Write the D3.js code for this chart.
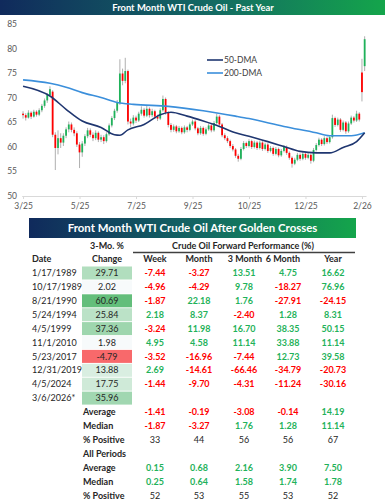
<!DOCTYPE html>
<html>
<head>
<meta charset="utf-8">
<script src="https://cdn.jsdelivr.net/npm/d3@7"></script>
<style>
body { margin: 0; background: #fff; }
text { font-family: Lato, "Open Sans", sans-serif; }
</style>
</head>
<body>
<div id="canvas-div"></div>
<script>
// price candles (two trading days per candle)
const opens = [66.8,66.5,66.0,67.0,66.2,67.2,66.6,67.5,68.4,69.5,70.6,71.3,62.5,59.8,61.8,60.9,62.3,63.6,64.6,63.5,
    62.8,60.5,58.9,60.7,62.2,63.4,62.5,61.8,62.9,61.5,62.0,61.2,62.6,64.4,65.9,67.4,69.0,75.0,73.5,75.5,
    65.2,64.8,66.0,65.4,66.8,67.6,66.4,67.8,66.5,67.3,66.2,65.8,67.5,69.8,67.0,64.5,63.5,64.2,63.2,63.9,
    63.0,64.0,63.5,64.6,65.2,63.8,62.8,63.9,62.7,63.6,64.4,63.4,64.9,66.2,64.6,62.4,61.8,61.2,60.2,59.5,
    58.2,57.6,59.6,60.8,60.2,61.2,60.0,60.9,59.8,60.9,59.6,60.5,59.2,59.8,58.6,59.6,58.3,59.2,60.0,58.8,
    57.8,56.6,57.4,58.4,57.6,58.6,57.8,58.4,57.2,59.4,60.4,61.5,60.6,61.8,61.0,62.0,65.9,64.5,65.6,63.5,
    65.0,63.2,64.8,66.0,65.4,66.8,75.2,76.5];
const highs = [67.3,66.9,67.5,67.3,67.6,67.5,67.9,68.8,69.9,71.0,72.4,71.6,63.0,63.4,62.8,62.8,64.0,65.2,65.0,64.0,
    63.2,61.0,61.2,62.6,63.9,63.8,63.0,63.4,63.2,62.5,62.4,63.0,64.8,66.3,67.8,69.6,77.9,76.0,78.2,75.8,
    65.8,66.5,66.4,67.2,68.3,68.0,68.4,68.1,67.8,67.6,66.6,67.9,70.5,70.1,67.3,64.9,64.6,64.5,64.3,64.2,
    64.4,64.3,65.0,65.6,65.5,64.1,64.3,64.2,64.0,64.8,64.7,65.3,66.8,66.5,64.9,62.8,62.2,61.5,60.6,59.8,
    58.6,60.0,61.2,61.1,61.6,61.5,61.3,61.2,61.3,61.2,60.9,60.8,60.2,60.1,60.0,59.9,59.6,60.4,60.3,59.1,
    58.1,57.8,58.8,58.7,59.0,58.9,58.8,58.7,59.8,60.8,61.9,61.8,62.2,62.1,62.4,66.6,66.2,66.0,65.9,65.4,
    65.3,65.2,66.4,66.3,67.4,67.1,78.0,82.6];
const lows = [65.8,65.4,65.8,65.7,66.0,66.2,66.3,67.1,68.0,69.0,70.3,62.0,55.3,58.5,59.8,60.2,61.8,63.0,63.0,62.2,
    60.0,55.7,58.0,60.2,61.8,62.0,61.2,61.4,61.0,61.0,60.6,60.9,62.3,64.0,65.5,67.0,68.6,72.6,73.0,64.6,
    64.0,64.4,64.9,65.1,66.4,66.0,66.1,66.0,66.1,65.7,65.3,65.5,67.2,66.6,64.0,63.0,63.1,62.8,62.9,62.6,
    62.7,63.0,63.2,64.3,63.4,62.4,62.5,62.3,62.4,63.3,63.0,63.1,64.6,64.2,62.0,61.4,60.8,59.8,59.1,57.8,
    57.0,57.3,59.3,59.8,59.9,59.6,59.7,59.4,59.5,59.2,59.3,58.8,58.9,58.2,58.3,57.9,58.0,58.9,58.4,57.4,
    55.8,56.3,57.1,57.2,57.3,57.4,57.5,56.6,56.9,59.1,60.1,60.2,60.3,60.6,60.7,61.7,64.1,64.2,63.1,63.2,
    62.7,62.9,64.5,65.0,65.1,65.2,69.3,75.5];
const closes = [66.5,66.0,67.0,66.2,67.2,66.6,67.5,68.4,69.5,70.6,71.8,62.5,59.8,61.8,60.9,62.3,63.6,64.6,63.5,62.8,
    60.5,58.9,60.7,62.2,63.4,62.5,61.8,62.9,61.5,62.0,61.2,62.6,64.4,65.9,67.4,69.0,75.0,73.5,75.5,65.2,
    64.8,66.0,65.4,66.8,67.6,66.4,67.8,66.5,67.3,66.2,65.8,67.5,69.8,67.0,64.5,63.5,64.2,63.2,63.9,63.0,
    64.0,63.5,64.6,65.2,63.8,62.8,63.9,62.7,63.6,64.4,63.4,64.9,66.2,64.6,62.4,61.8,61.2,60.2,59.5,58.2,
    57.6,59.6,60.8,60.2,61.2,60.0,60.9,59.8,60.9,59.6,60.5,59.2,59.8,58.6,59.6,58.3,59.2,60.0,58.8,57.8,
    56.6,57.4,58.4,57.6,58.6,57.8,58.4,57.2,59.4,60.4,61.5,60.6,61.8,61.0,62.0,65.9,64.5,65.6,63.5,65.0,
    63.2,64.8,66.0,65.4,66.8,65.6,71.2,82.0];

// moving averages, read at a few candles and drawn as smooth curves
const dma50Days = [0, 10, 16, 22, 29, 34, 36, 39, 45, 51, 55, 61, 67, 73, 79, 84, 91, 97, 103, 109, 114, 119, 124, 127];
const dma50 = [72.4, 70.4, 67.7, 65.3, 64.0, 62.5, 62.4, 63.5, 64.6, 66.6, 67.1, 66.3, 65.3, 64.2, 62.9, 62.2, 61.1, 60.1, 59.1, 58.8, 58.8, 59.9, 61.1, 62.9];
const dma200Days = [0, 10, 16, 22, 29, 35, 41, 54, 67, 79, 84, 97, 109, 114, 122, 127];
const dma200 = [73.7, 73.0, 72.2, 71.1, 70.1, 69.1, 68.7, 68.3, 67.4, 66.3, 65.8, 64.2, 62.9, 62.3, 62.3, 62.9];

const tickDays = [0, 21, 42, 63, 84, 105, 126];
const tickLabels = ["3/25", "5/25", "7/25", "9/25", "10/25", "12/25", "2/26"];
const yTicks = [50, 55, 60, 65, 70, 75, 80, 85];
const legendNames = ["50-DMA", "200-DMA"];

// golden cross table
const crossDates = ["1/17/1989", "10/17/1989", "8/21/1990", "5/24/1994", "4/5/1999", "11/1/2010", "5/23/2017", "12/31/2019", "4/5/2024", "3/6/2026*"];
const change3m = [29.71, 2.02, 60.69, 25.84, 37.36, 1.98, -4.79, 13.88, 17.75, 35.96];
const periods = ["Week", "Month", "3 Month", "6 Month", "Year"];
const weekPerf = [-7.44, -4.96, -1.87, 2.18, -3.24, 4.95, -3.52, 2.69, -1.44];
const monthPerf = [-3.27, -4.29, 22.18, 8.37, 11.98, 4.58, -16.96, -14.61, -9.70];
const threeMonthPerf = [13.51, 9.78, 1.76, -2.40, 16.70, 11.14, -7.44, -66.46, -4.31];
const sixMonthPerf = [4.75, -18.27, -27.91, 1.28, 38.35, 33.88, 12.73, -34.79, -11.24];
const yearPerf = [16.62, 76.96, -24.15, 8.31, 50.15, 11.14, 39.58, -20.73, -30.16];
const summaryLabels = ["Average", "Median", "% Positive", "All Periods", "Average", "Median", "% Positive"];
const crossAverage = [-1.41, -0.19, -3.08, -0.14, 14.19];
const crossMedian = [-1.87, -3.27, 1.76, 1.28, 11.14];
const crossPositive = [33, 44, 56, 56, 67];
const allAverage = [0.15, 0.68, 2.16, 3.90, 7.50];
const allMedian = [0.25, 0.64, 1.58, 1.74, 1.78];
const allPositive = [52, 53, 55, 53, 52];

const width = 385, height = 500;
const green = "#1fb25a", red = "#ff0000";

const svg = d3.select("#canvas-div")
    .append("svg")
    .attr("width", width)
    .attr("height", height)
    .style("background-color", "white");

const grad = svg.append("defs").append("linearGradient")
    .attr("id", "banner")
    .attr("x1", "0%").attr("x2", "100%");
grad.append("stop").attr("offset", "0%").attr("stop-color", "#102a5c");
grad.append("stop").attr("offset", "55%").attr("stop-color", "#136a63");
grad.append("stop").attr("offset", "100%").attr("stop-color", "#14a54b");

//top banner
svg.append("rect")
    .attr("x", 0).attr("y", 0)
    .attr("width", width).attr("height", 15)
    .attr("fill", "url(#banner)");
svg.append("text")
    .attr("x", 193).attr("y", 7.5).attr("dy", "0.35em")
    .attr("text-anchor", "middle")
    .attr("fill", "white")
    .attr("font-weight", "bold")
    .attr("font-size", "9.4px")
    .text("Front Month WTI Crude Oil - Past Year");

//scales
const x = d3.scaleLinear()
    .domain([-0.5, closes.length - 0.5])
    .range([21.7, 366]);
const y = d3.scaleLinear()
    .domain([50, 85])
    .range([196, 24.5]);

//x axis
const xAxis = d3.axisBottom()
    .scale(x)
    .tickValues(tickDays)
    .tickSize(3)
    .tickSizeOuter(0)
    .tickPadding(4)
    .tickFormat((d, i) => tickLabels[i]);

const gx = svg.append("g")
    .attr("transform", "translate(0," + y(50) + ")")
    .call(xAxis);
gx.select(".domain").attr("stroke", "#d9d9d9");
gx.selectAll(".tick line").attr("stroke", "#d9d9d9");
gx.selectAll(".tick text")
    .attr("fill", "#595959")
    .attr("font-size", "8.5px")
    .attr("font-family", "Lato, sans-serif");

//y labels
svg.selectAll(".y-label")
    .data(yTicks)
    .enter()
    .append("text")
    .attr("class", "y-label")
    .attr("x", 17)
    .attr("y", d => y(d))
    .attr("dy", "0.35em")
    .attr("text-anchor", "end")
    .attr("fill", "#595959")
    .attr("font-size", "8.5px")
    .text(d => d);

//candles
const days = d3.range(closes.length);
svg.selectAll(".wick")
    .data(days)
    .enter()
    .append("line")
    .attr("class", "wick")
    .attr("x1", i => x(i))
    .attr("x2", i => x(i))
    .attr("y1", i => y(highs[i]))
    .attr("y2", i => y(lows[i]))
    .attr("stroke", "#a6a6a6")
    .attr("stroke-width", 0.9);

svg.selectAll(".body")
    .data(days)
    .enter()
    .append("rect")
    .attr("class", "body")
    .attr("x", i => x(i) - 0.9)
    .attr("width", 1.8)
    .attr("y", i => y(Math.max(opens[i], closes[i])))
    .attr("height", i => Math.max(0.8, Math.abs(y(opens[i]) - y(closes[i]))))
    .attr("fill", i => closes[i] >= opens[i] ? green : red);

//moving averages
const line = d3.line()
    .x(d => x(d[0]))
    .y(d => y(d[1]))
    .curve(d3.curveMonotoneX);

svg.append("path")
    .datum(dma200Days.map((d, i) => [d, dma200[i]]))
    .attr("d", line)
    .attr("fill", "none")
    .attr("stroke", "#3b8fdb")
    .attr("stroke-width", 1.6);

svg.append("path")
    .datum(dma50Days.map((d, i) => [d, dma50[i]]))
    .attr("d", line)
    .attr("fill", "none")
    .attr("stroke", "#1f3670")
    .attr("stroke-width", 1.6);

//legend
const legend = svg.selectAll(".legend")
    .data(legendNames)
    .enter()
    .append("g")
    .attr("class", "legend")
    .attr("transform", (d, i) => "translate(207," + (60 + i * 13) + ")");
legend.append("line")
    .attr("x1", 0).attr("x2", 16)
    .attr("stroke", (d, i) => i === 0 ? "#1f3670" : "#3b8fdb")
    .attr("stroke-width", 1.6);
legend.append("text")
    .attr("x", 17).attr("dy", "0.35em")
    .attr("fill", "#404040")
    .attr("font-size", "8.5px")
    .text(d => d);

//table banner
svg.append("rect")
    .attr("x", 29).attr("y", 218)
    .attr("width", 327).attr("height", 20)
    .attr("fill", "url(#banner)");
svg.append("text")
    .attr("x", 192.5).attr("y", 228).attr("dy", "0.35em")
    .attr("text-anchor", "middle")
    .attr("fill", "white")
    .attr("font-weight", "bold")
    .attr("font-size", "11.4px")
    .text("Front Month WTI Crude Oil After Golden Crosses");

//table header
const ink = "#262626";
const colX = [155, 199, 244, 288, 333];
const headX = [155, 199, 245, 283, 333];
const header = svg.append("g")
    .attr("font-size", "9px")
    .attr("font-weight", "bold")
    .attr("fill", ink);
header.append("text").attr("x", 107).attr("y", 246).attr("dy", "0.35em")
    .attr("text-anchor", "middle").text("3-Mo. %");
header.append("text").attr("x", 107).attr("y", 259).attr("dy", "0.35em")
    .attr("text-anchor", "middle").text("Change");
header.append("text").attr("x", 32).attr("y", 259).attr("dy", "0.35em")
    .text("Date");
header.append("text").attr("x", 243).attr("y", 246).attr("dy", "0.35em")
    .attr("text-anchor", "middle").text("Crude Oil Forward Performance (%)");
header.selectAll(".period")
    .data(periods)
    .enter()
    .append("text")
    .attr("x", (d, i) => headX[i])
    .attr("y", 259).attr("dy", "0.35em")
    .attr("text-anchor", "middle")
    .text(d => d);
svg.append("line")
    .attr("x1", 133).attr("x2", 355)
    .attr("y1", 252.5).attr("y2", 252.5)
    .attr("stroke", "#404040")
    .attr("stroke-width", 1.3);

//rows
const rowY = k => 273 + k * 13.9;
const heat = d3.scaleLinear()
    .domain([d3.min(change3m), 0, d3.max(change3m)])
    .range(["#f8696b", "#fcfcff", "#63be7b"]);
const numColor = v => v < 0 ? red : green;

svg.selectAll(".heat")
    .data(change3m)
    .enter()
    .append("rect")
    .attr("class", "heat")
    .attr("x", 82).attr("width", 50)
    .attr("y", (d, k) => rowY(k) - 6.5)
    .attr("height", 13)
    .attr("fill", d => heat(d));

svg.selectAll(".change")
    .data(change3m)
    .enter()
    .append("text")
    .attr("class", "change")
    .attr("x", 107)
    .attr("y", (d, k) => rowY(k)).attr("dy", "0.35em")
    .attr("text-anchor", "middle")
    .attr("font-size", "9px")
    .attr("fill", ink)
    .text(d => d.toFixed(2));

svg.selectAll(".date")
    .data(crossDates)
    .enter()
    .append("text")
    .attr("class", "date")
    .attr("x", 32)
    .attr("y", (d, k) => rowY(k)).attr("dy", "0.35em")
    .attr("font-size", "9px")
    .attr("fill", ink)
    .text(d => d);

const perfCols = [weekPerf, monthPerf, threeMonthPerf, sixMonthPerf, yearPerf];
perfCols.forEach((col, c) => {
    svg.selectAll(".perf" + c)
        .data(col)
        .enter()
        .append("text")
        .attr("x", colX[c])
        .attr("y", (d, k) => rowY(k)).attr("dy", "0.35em")
        .attr("text-anchor", "middle")
        .attr("font-size", "9px")
        .attr("font-weight", "bold")
        .attr("fill", d => numColor(d))
        .text(d => d.toFixed(2));
});

//summary rows
svg.selectAll(".summary")
    .data(summaryLabels)
    .enter()
    .append("text")
    .attr("class", "summary")
    .attr("x", 83)
    .attr("y", (d, k) => rowY(10 + k)).attr("dy", "0.35em")
    .attr("font-size", "9px")
    .attr("font-weight", "bold")
    .attr("fill", ink)
    .text(d => d);

const summaryRows = [
    { k: 10, vals: crossAverage, pct: false },
    { k: 11, vals: crossMedian, pct: false },
    { k: 12, vals: crossPositive, pct: true },
    { k: 14, vals: allAverage, pct: false },
    { k: 15, vals: allMedian, pct: false },
    { k: 16, vals: allPositive, pct: true }
];
summaryRows.forEach(row => {
    svg.selectAll(".sum" + row.k)
        .data(row.vals)
        .enter()
        .append("text")
        .attr("x", (d, c) => colX[c])
        .attr("y", rowY(row.k)).attr("dy", "0.35em")
        .attr("text-anchor", "middle")
        .attr("font-size", "9px")
        .attr("font-weight", row.pct ? "normal" : "bold")
        .attr("fill", d => row.pct ? ink : numColor(d))
        .text(d => row.pct ? d : d.toFixed(2));
});
</script>
</body>
</html>
